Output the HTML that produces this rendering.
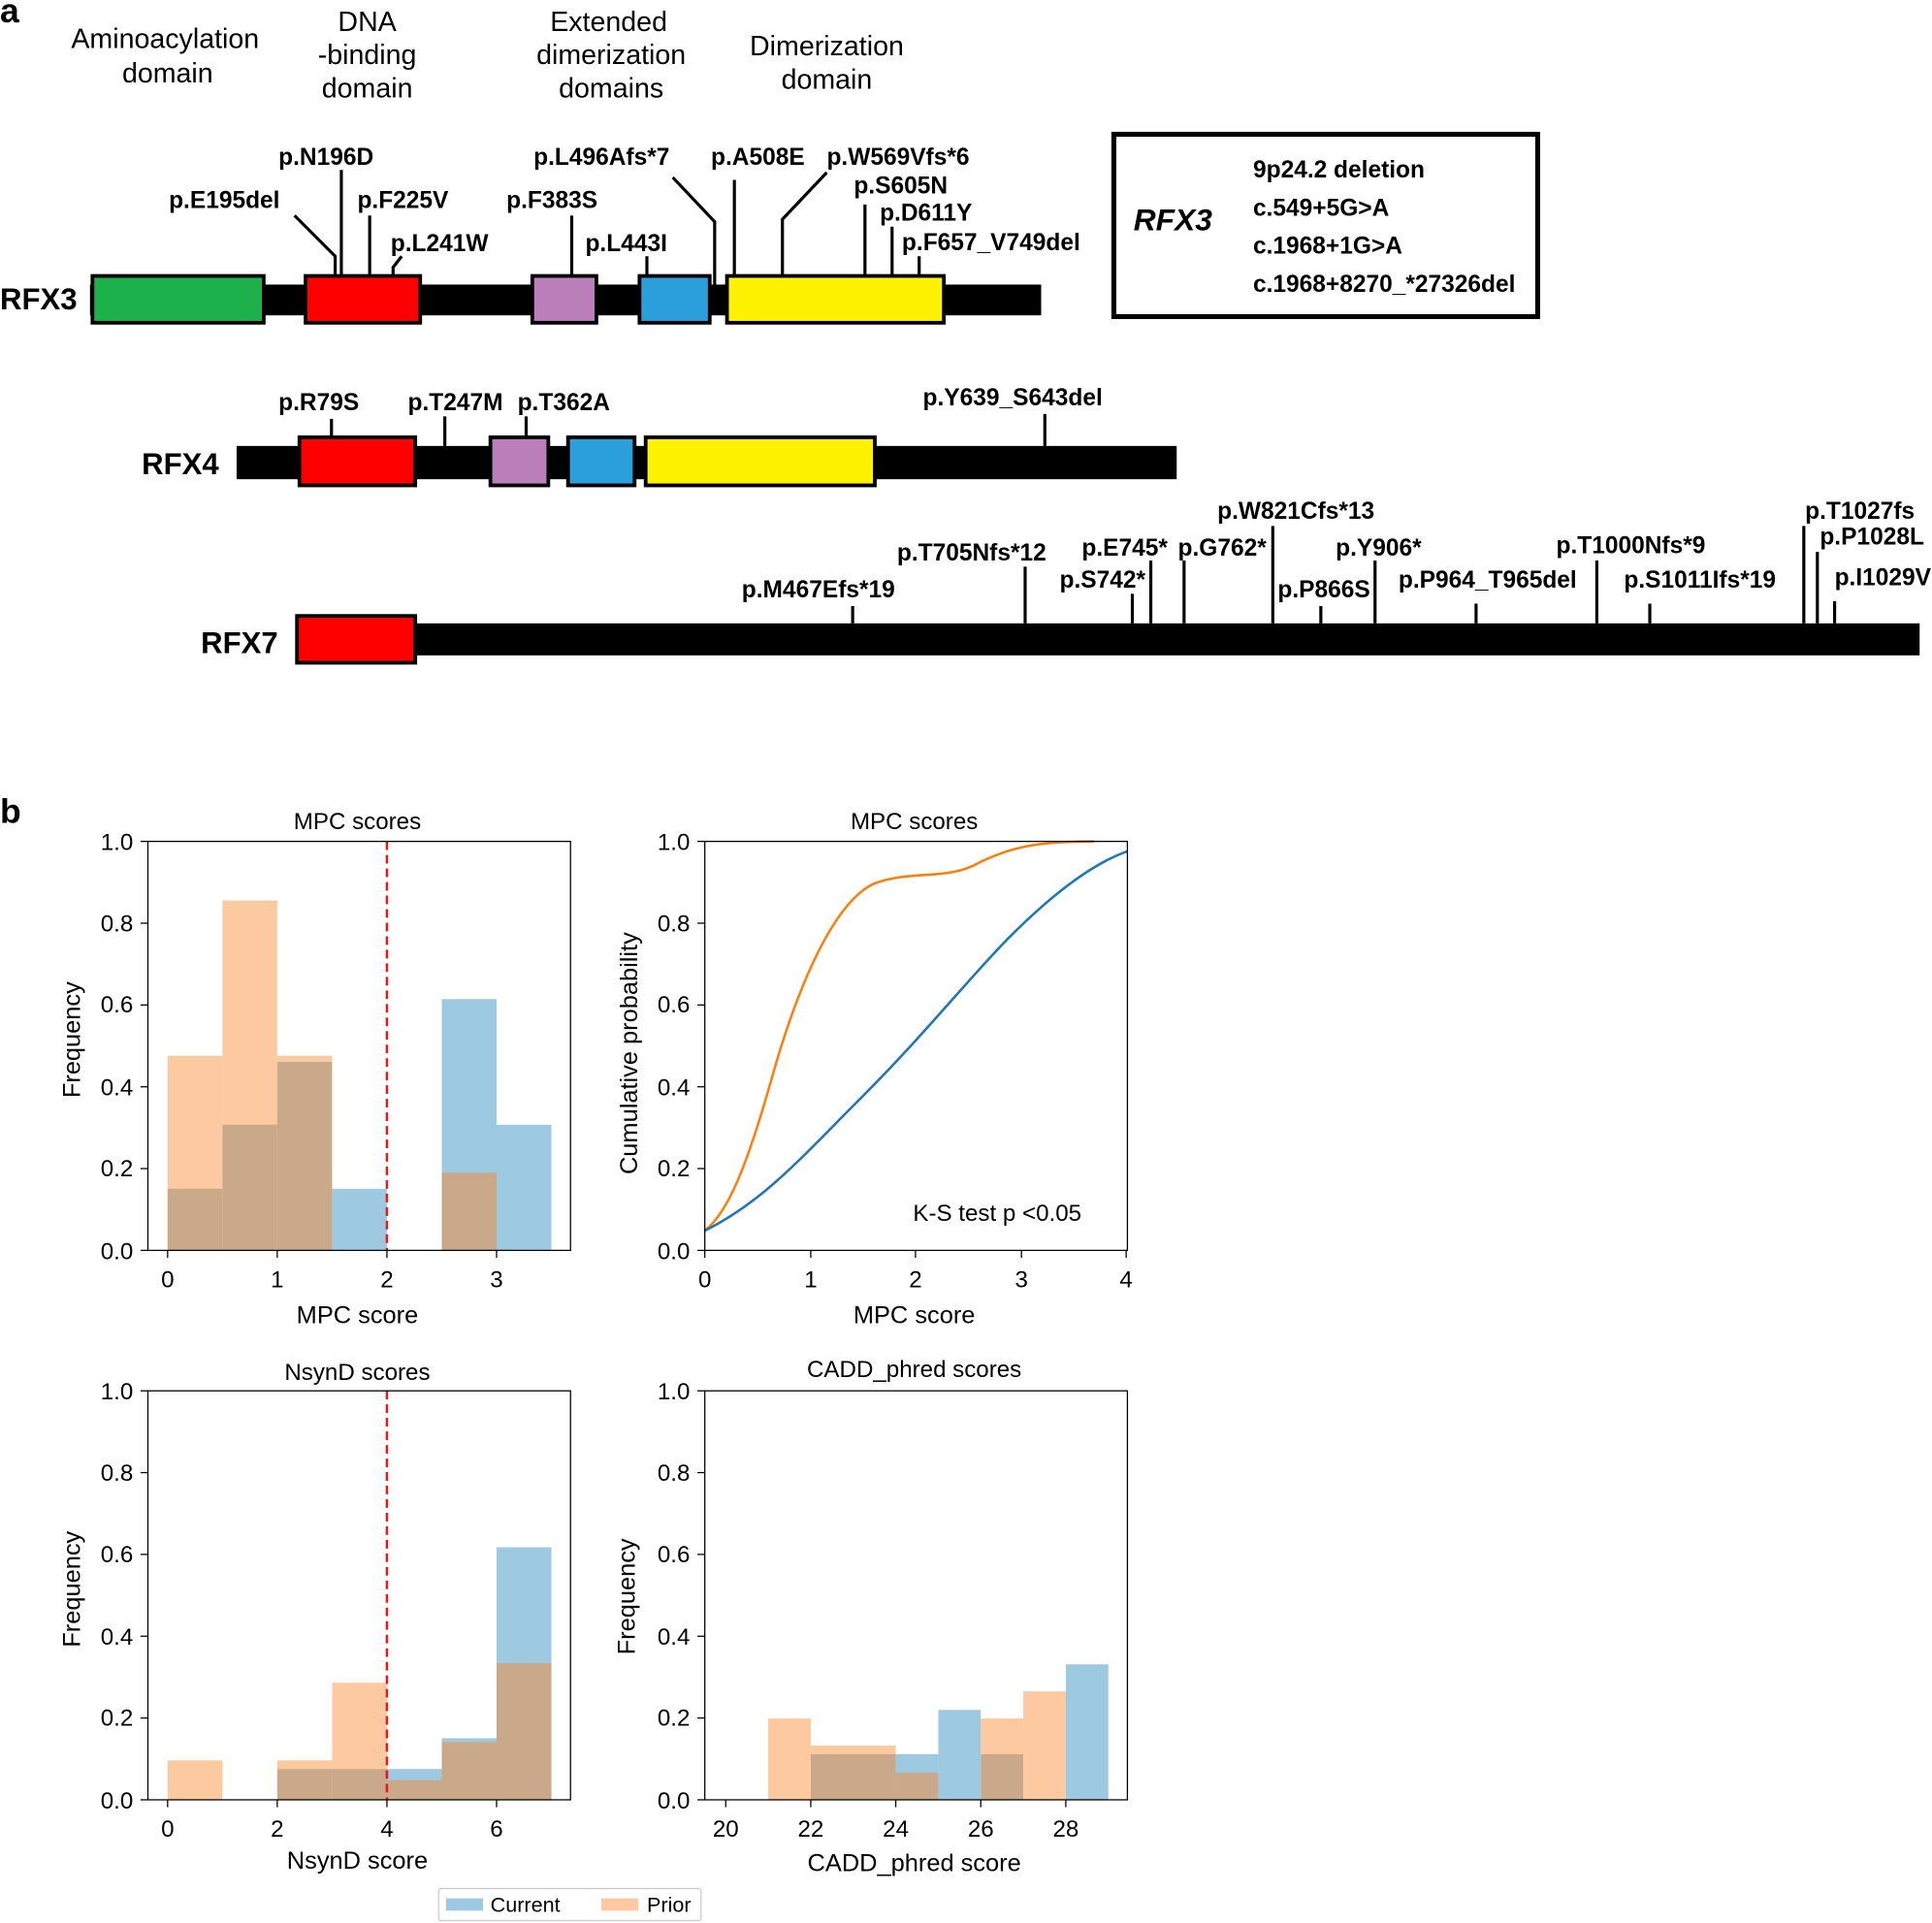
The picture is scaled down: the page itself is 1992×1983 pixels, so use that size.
<!DOCTYPE html>
<html><head><meta charset="utf-8"><style>
html,body{margin:0;padding:0;background:#fff}
svg{display:block}
text{font-family:"Liberation Sans",Arial,sans-serif}
.b{font-weight:bold;font-size:19.3px}
.t{font-size:19px}
</style></head><body>
<svg width="1992" height="1983" viewBox="0 0 1568 1561" xmlns="http://www.w3.org/2000/svg">
<rect width="1568" height="1561" fill="#fff"/>
<text x="0" y="18" font-weight="bold" font-size="28">a</text>
<text x="0" y="668" font-weight="bold" font-size="28">b</text>
<g text-anchor="middle">
<text x="134" y="39" font-size="22.5">Aminoacylation</text><text x="136" y="67" font-size="22.5">domain</text>
<text x="298" y="25" font-size="22.5">DNA</text><text x="298" y="52" font-size="22.5">-binding</text><text x="298" y="79" font-size="22.5">domain</text>
<text x="494" y="25" font-size="22.5">Extended</text><text x="496" y="52" font-size="22.5">dimerization</text><text x="496" y="79" font-size="22.5">domains</text>
<text x="671" y="45" font-size="22.5">Dimerization</text><text x="671" y="72" font-size="22.5">domain</text>
</g>
<!-- RFX3 -->
<rect x="73" y="231" width="772" height="25" fill="#000"/>
<g stroke="#000" stroke-width="3">
<rect x="75" y="224" width="139" height="38" fill="#1db14b"/>
<rect x="248" y="224" width="93" height="38" fill="#f00"/>
<rect x="432" y="224" width="52" height="38" fill="#bb80bb"/>
<rect x="519" y="224" width="57" height="38" fill="#2b9fd9"/>
<rect x="590" y="224" width="176" height="38" fill="#fff200"/>
</g>
<text x="0" y="251" font-weight="bold" font-size="24.5">RFX3</text>
<g stroke="#000" stroke-width="2.5" fill="none">
<polyline points="239,175 272,208 272,224"/>
<line x1="277" y1="138" x2="277" y2="224"/>
<line x1="300" y1="175" x2="300" y2="224"/>
<polyline points="326,208 319,217 319,224"/>
<line x1="464" y1="175" x2="464" y2="224"/>
<line x1="525" y1="208" x2="525" y2="224"/>
<polyline points="546,144 580,180 580,231"/>
<line x1="596" y1="146" x2="596" y2="224"/>
<polyline points="671,140 635,178 635,224"/>
<line x1="702" y1="166" x2="702" y2="224"/>
<line x1="724" y1="184" x2="724" y2="224"/>
<line x1="746" y1="208" x2="746" y2="224"/>
</g>
<g class="b">
<text x="137" y="169">p.E195del</text>
<text x="226" y="134">p.N196D</text>
<text x="290" y="169">p.F225V</text>
<text x="317" y="204">p.L241W</text>
<text x="411" y="169">p.F383S</text>
<text x="475" y="204">p.L443I</text>
<text x="433" y="134">p.L496Afs*7</text>
<text x="577" y="134">p.A508E</text>
<text x="671" y="134">p.W569Vfs*6</text>
<text x="693" y="157">p.S605N</text>
<text x="714" y="179">p.D611Y</text>
<text x="732" y="203">p.F657_V749del</text>
</g>
<rect x="904" y="109" width="344" height="148" fill="none" stroke="#000" stroke-width="4"/>
<text x="920" y="187" font-weight="bold" font-style="italic" font-size="25">RFX3</text>
<g class="b"><text x="1017" y="144">9p24.2 deletion</text><text x="1017" y="175">c.549+5G&gt;A</text><text x="1017" y="206">c.1968+1G&gt;A</text><text x="1017" y="237">c.1968+8270_*27326del</text></g>
<!-- RFX4 -->
<rect x="192" y="362" width="763" height="27" fill="#000"/>
<g stroke="#000" stroke-width="3">
<rect x="243" y="355" width="94" height="39" fill="#f00"/>
<rect x="398" y="355" width="47" height="39" fill="#bb80bb"/>
<rect x="461" y="355" width="54" height="39" fill="#2b9fd9"/>
<rect x="524" y="355" width="186" height="39" fill="#fff200"/>
</g>
<text x="115" y="385" font-weight="bold" font-size="24.5">RFX4</text>
<g stroke="#000" stroke-width="2.5"><line x1="269" y1="340" x2="269" y2="355"/><line x1="361" y1="338" x2="361" y2="362"/><line x1="427" y1="338" x2="427" y2="355"/><line x1="848" y1="336" x2="848" y2="362"/></g>
<g class="b"><text x="226" y="333">p.R79S</text><text x="331" y="333">p.T247M</text><text x="420" y="333">p.T362A</text><text x="749" y="329">p.Y639_S643del</text></g>
<!-- RFX7 -->
<rect x="240" y="506" width="1318" height="26" fill="#000"/>
<rect x="241" y="500" width="96" height="38" fill="#f00" stroke="#000" stroke-width="3"/>
<text x="163" y="530" font-weight="bold" font-size="24.5">RFX7</text>
<g stroke="#000" stroke-width="2.5">
<line x1="692" y1="492" x2="692" y2="506"/><line x1="832" y1="460" x2="832" y2="506"/>
<line x1="919" y1="482" x2="919" y2="506"/><line x1="934" y1="455" x2="934" y2="506"/>
<line x1="961" y1="455" x2="961" y2="506"/><line x1="1033" y1="427" x2="1033" y2="506"/>
<line x1="1072" y1="492" x2="1072" y2="506"/><line x1="1116" y1="455" x2="1116" y2="506"/>
<line x1="1198" y1="490" x2="1198" y2="506"/><line x1="1296" y1="455" x2="1296" y2="506"/>
<line x1="1339" y1="490" x2="1339" y2="506"/><line x1="1464" y1="427" x2="1464" y2="506"/>
<line x1="1475" y1="448" x2="1475" y2="506"/><line x1="1489" y1="488" x2="1489" y2="506"/>
</g>
<g class="b">
<text x="602" y="485">p.M467Efs*19</text><text x="728" y="455">p.T705Nfs*12</text>
<text x="860" y="477">p.S742*</text><text x="878" y="451">p.E745*</text><text x="956" y="451">p.G762*</text>
<text x="988" y="421">p.W821Cfs*13</text><text x="1037" y="485">p.P866S</text><text x="1084" y="451">p.Y906*</text>
<text x="1135" y="477">p.P964_T965del</text><text x="1263" y="449">p.T1000Nfs*9</text><text x="1318" y="477">p.S1011Ifs*19</text>
<text x="1465" y="421">p.T1027fs</text><text x="1477" y="442">p.P1028L</text><text x="1489" y="475">p.I1029V</text>
</g>
<!-- TL hist -->
<g>
<rect x="136" y="857" width="44.5" height="158" fill="#fdc9a0"/><rect x="136" y="965" width="44.5" height="50" fill="#c9a98a"/>
<rect x="180.5" y="731" width="44.5" height="284" fill="#fdc9a0"/><rect x="180.5" y="913" width="44.5" height="102" fill="#c9a98a"/>
<rect x="225" y="857" width="44.5" height="158" fill="#fdc9a0"/><rect x="225" y="862" width="44.5" height="153" fill="#c9a98a"/>
<rect x="269.5" y="965" width="44.5" height="50" fill="#9ecae1"/>
<rect x="358.5" y="811" width="44.5" height="204" fill="#9ecae1"/><rect x="358.5" y="952" width="44.5" height="63" fill="#c9a98a"/>
<rect x="403" y="913" width="44.5" height="102" fill="#9ecae1"/>
<line x1="314" y1="683" x2="314" y2="1015" stroke="#e41a1c" stroke-width="2" stroke-dasharray="7,4"/>
</g>
<!-- BL hist -->
<g>
<rect x="136" y="1429" width="44.5" height="32" fill="#fdc9a0"/>
<rect x="225" y="1429" width="44.5" height="32" fill="#fdc9a0"/><rect x="225" y="1436" width="44.5" height="25" fill="#c9a98a"/>
<rect x="269.5" y="1366" width="44.5" height="95" fill="#fdc9a0"/><rect x="269.5" y="1436" width="44.5" height="25" fill="#c9a98a"/>
<rect x="314" y="1436" width="44.5" height="25" fill="#9ecae1"/><rect x="314" y="1445" width="44.5" height="16" fill="#c9a98a"/>
<rect x="358.5" y="1411" width="44.5" height="50" fill="#9ecae1"/><rect x="358.5" y="1414" width="44.5" height="47" fill="#c9a98a"/>
<rect x="403" y="1256" width="44.5" height="205" fill="#9ecae1"/><rect x="403" y="1350" width="44.5" height="111" fill="#c9a98a"/>
<line x1="314" y1="1129" x2="314" y2="1461" stroke="#e41a1c" stroke-width="2" stroke-dasharray="7,4"/>
</g>
<!-- BR hist -->
<g>
<rect x="623.5" y="1395" width="34.5" height="66" fill="#fdc9a0"/>
<rect x="658" y="1417" width="69" height="44" fill="#fdc9a0"/><rect x="658" y="1424" width="69" height="37" fill="#c9a98a"/>
<rect x="727" y="1424" width="34.5" height="37" fill="#9ecae1"/><rect x="727" y="1439" width="34.5" height="22" fill="#c9a98a"/>
<rect x="761.5" y="1388" width="34.5" height="73" fill="#9ecae1"/>
<rect x="796" y="1395" width="34.5" height="66" fill="#fdc9a0"/><rect x="796" y="1424" width="34.5" height="37" fill="#c9a98a"/>
<rect x="830.5" y="1373" width="34.5" height="88" fill="#fdc9a0"/>
<rect x="865" y="1351" width="34.5" height="110" fill="#9ecae1"/>
</g>
<!-- CDF -->
<path d="M572,999 C590,985 605,950 625,880 C650,790 680,730 710,717 C740,706 770,715 795,700 C820,688 840,683 888,683" fill="none" stroke="#ff7f0e" stroke-width="2"/>
<path d="M572,999 C620,975 650,940 700,890 C750,840 790,790 820,760 C860,720 890,700 915,691" fill="none" stroke="#1f77b4" stroke-width="2"/>
<text x="741" y="991" class="t">K-S test p &lt;0.05</text>
<g fill="none" stroke="#000" stroke-width="1">
<rect x="120" y="683" width="343" height="332"/><rect x="572" y="683" width="343" height="332"/>
<rect x="120" y="1129" width="343" height="332"/><rect x="572" y="1129" width="343" height="332"/>
</g>
<g stroke="#000" stroke-width="1">
<line x1="114" y1="683" x2="120" y2="683"/><line x1="114" y1="749.4" x2="120" y2="749.4"/><line x1="114" y1="815.8" x2="120" y2="815.8"/><line x1="114" y1="882.2" x2="120" y2="882.2"/><line x1="114" y1="948.6" x2="120" y2="948.6"/><line x1="114" y1="1015" x2="120" y2="1015"/>
<line x1="566" y1="683" x2="572" y2="683"/><line x1="566" y1="749.4" x2="572" y2="749.4"/><line x1="566" y1="815.8" x2="572" y2="815.8"/><line x1="566" y1="882.2" x2="572" y2="882.2"/><line x1="566" y1="948.6" x2="572" y2="948.6"/><line x1="566" y1="1015" x2="572" y2="1015"/>
<line x1="114" y1="1129" x2="120" y2="1129"/><line x1="114" y1="1195.4" x2="120" y2="1195.4"/><line x1="114" y1="1261.8" x2="120" y2="1261.8"/><line x1="114" y1="1328.2" x2="120" y2="1328.2"/><line x1="114" y1="1394.6" x2="120" y2="1394.6"/><line x1="114" y1="1461" x2="120" y2="1461"/>
<line x1="566" y1="1129" x2="572" y2="1129"/><line x1="566" y1="1195.4" x2="572" y2="1195.4"/><line x1="566" y1="1261.8" x2="572" y2="1261.8"/><line x1="566" y1="1328.2" x2="572" y2="1328.2"/><line x1="566" y1="1394.6" x2="572" y2="1394.6"/><line x1="566" y1="1461" x2="572" y2="1461"/>
<line x1="136" y1="1015" x2="136" y2="1021"/><line x1="225" y1="1015" x2="225" y2="1021"/><line x1="314" y1="1015" x2="314" y2="1021"/><line x1="403" y1="1015" x2="403" y2="1021"/>
<line x1="572" y1="1015" x2="572" y2="1021"/><line x1="658" y1="1015" x2="658" y2="1021"/><line x1="743" y1="1015" x2="743" y2="1021"/><line x1="829" y1="1015" x2="829" y2="1021"/><line x1="914" y1="1015" x2="914" y2="1021"/>
<line x1="136" y1="1461" x2="136" y2="1467"/><line x1="225" y1="1461" x2="225" y2="1467"/><line x1="314" y1="1461" x2="314" y2="1467"/><line x1="403" y1="1461" x2="403" y2="1467"/>
<line x1="589" y1="1461" x2="589" y2="1467"/><line x1="658" y1="1461" x2="658" y2="1467"/><line x1="727" y1="1461" x2="727" y2="1467"/><line x1="796" y1="1461" x2="796" y2="1467"/><line x1="865" y1="1461" x2="865" y2="1467"/>
</g>
<g class="t" text-anchor="end">
<text x="108" y="690">1.0</text><text x="108" y="756">0.8</text><text x="108" y="822">0.6</text><text x="108" y="889">0.4</text><text x="108" y="955">0.2</text><text x="108" y="1022">0.0</text>
<text x="560" y="690">1.0</text><text x="560" y="756">0.8</text><text x="560" y="822">0.6</text><text x="560" y="889">0.4</text><text x="560" y="955">0.2</text><text x="560" y="1022">0.0</text>
<text x="108" y="1136">1.0</text><text x="108" y="1202">0.8</text><text x="108" y="1268">0.6</text><text x="108" y="1335">0.4</text><text x="108" y="1401">0.2</text><text x="108" y="1468">0.0</text>
<text x="560" y="1136">1.0</text><text x="560" y="1202">0.8</text><text x="560" y="1268">0.6</text><text x="560" y="1335">0.4</text><text x="560" y="1401">0.2</text><text x="560" y="1468">0.0</text>
</g>
<g class="t" text-anchor="middle">
<text x="136" y="1045">0</text><text x="225" y="1045">1</text><text x="314" y="1045">2</text><text x="403" y="1045">3</text>
<text x="572" y="1045">0</text><text x="658" y="1045">1</text><text x="743" y="1045">2</text><text x="829" y="1045">3</text><text x="914" y="1045">4</text>
<text x="136" y="1491">0</text><text x="225" y="1491">2</text><text x="314" y="1491">4</text><text x="403" y="1491">6</text>
<text x="589" y="1491">20</text><text x="658" y="1491">22</text><text x="727" y="1491">24</text><text x="796" y="1491">26</text><text x="865" y="1491">28</text>
<text x="290" y="673">MPC scores</text><text x="742" y="673">MPC scores</text><text x="290" y="1120">NsynD scores</text><text x="742" y="1118">CADD_phred scores</text>
<text x="290" y="1074" font-size="20">MPC score</text><text x="742" y="1074" font-size="20">MPC score</text>
<text x="290" y="1517" font-size="20">NsynD score</text><text x="742" y="1519" font-size="20">CADD_phred score</text>
<text transform="translate(65,844) rotate(-90)" font-size="20">Frequency</text>
<text transform="translate(517,855) rotate(-90)" font-size="20">Cumulative probability</text>
<text transform="translate(65,1290) rotate(-90)" font-size="20">Frequency</text>
<text transform="translate(515,1296) rotate(-90)" font-size="20">Frequency</text>
</g>
<rect x="356" y="1533" width="213" height="26" fill="#fff" stroke="#ccc" stroke-width="1" rx="2"/>
<rect x="362" y="1541" width="30" height="10" fill="#9ecae1"/><text x="398" y="1552" font-size="17">Current</text>
<rect x="488" y="1541" width="30" height="10" fill="#fdc9a0"/><text x="525" y="1552" font-size="17">Prior</text>
</svg>
</body></html>
